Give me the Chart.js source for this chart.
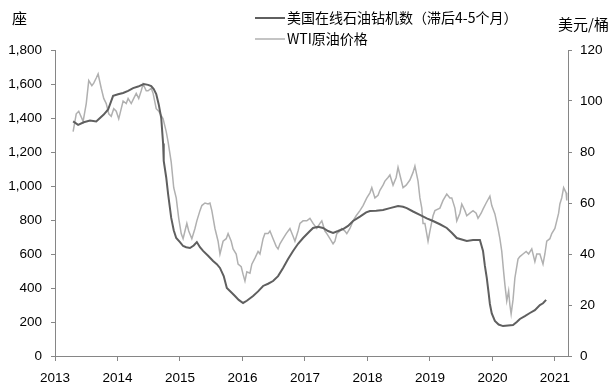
<!DOCTYPE html>
<html>
<head>
<meta charset="utf-8">
<script src="https://cdn.jsdelivr.net/npm/chart.js@4/dist/chart.umd.min.js"></script>
<style>
  body { margin: 0; background: #fff; }
</style>
</head>
<body>
<canvas id="myChart" width="611" height="391"></canvas>
<script>
const rigLabel = '美国在线石油钻机数（滞后4-5个月）'
const wtiLabel = 'WTI原油价格'
const leftUnit = '座'
const rightUnit = '美元/桶'

const yearTicks = [2013, 2014, 2015, 2016, 2017, 2018, 2019, 2020, 2021]

const rigYears = [
  2013.29, 2013.37, 2013.46, 2013.56, 2013.66, 2013.72, 2013.78, 2013.85, 2013.93, 2014.01,
  2014.09, 2014.17, 2014.25, 2014.33, 2014.42, 2014.49, 2014.54, 2014.58, 2014.62, 2014.66,
  2014.70, 2014.73, 2014.74, 2014.78, 2014.81, 2014.86, 2014.90, 2014.94, 2015.00, 2015.05,
  2015.10, 2015.16, 2015.22, 2015.27, 2015.32, 2015.37, 2015.45, 2015.53, 2015.59, 2015.64,
  2015.70, 2015.75, 2015.82, 2015.88, 2015.94, 2016.01, 2016.07, 2016.17, 2016.25, 2016.33,
  2016.41, 2016.49, 2016.57, 2016.65, 2016.73, 2016.81, 2016.89, 2016.97, 2017.08, 2017.13,
  2017.21, 2017.29, 2017.37, 2017.45, 2017.53, 2017.61, 2017.69, 2017.77, 2017.88, 2017.98,
  2018.04, 2018.14, 2018.25, 2018.36, 2018.49, 2018.57, 2018.63, 2018.73, 2018.84, 2018.95,
  2019.05, 2019.16, 2019.27, 2019.35, 2019.43, 2019.51, 2019.59, 2019.69, 2019.80, 2019.85,
  2019.88, 2019.91, 2019.94, 2019.96, 2019.99, 2020.04, 2020.10, 2020.17, 2020.25, 2020.33,
  2020.39, 2020.44, 2020.52, 2020.60, 2020.68, 2020.76, 2020.81, 2020.86
]
const rigCounts = [
  1380, 1360, 1375, 1385, 1380, 1400, 1420, 1450, 1530, 1540,
  1547, 1560, 1576, 1585, 1600, 1595, 1588, 1570, 1541, 1480,
  1400, 1250, 1147, 1050, 953, 812, 740, 694, 670, 647,
  640, 635, 650, 670, 640, 618, 590, 559, 540, 518,
  470, 400, 375, 353, 330, 312, 325, 353, 380, 412,
  425, 441, 470, 518, 570, 618, 660, 694, 735, 753,
  760, 753, 735, 724, 735, 747, 765, 794, 820, 845,
  853, 855, 859, 870, 882, 878, 870, 850, 830, 810,
  794, 775, 753, 725, 694, 685, 676, 682, 682, 618,
  530, 459, 370, 306, 250, 206, 185, 176, 180, 182,
  200, 218, 235, 253, 270, 300, 310, 330
]

const wtiYears = [
  2013.29, 2013.34, 2013.38, 2013.45, 2013.50, 2013.54, 2013.59, 2013.62, 2013.66, 2013.69,
  2013.74, 2013.78, 2013.82, 2013.86, 2013.90, 2013.94, 2013.98, 2014.02, 2014.06, 2014.09,
  2014.14, 2014.17, 2014.22, 2014.26, 2014.30, 2014.34, 2014.38, 2014.41, 2014.46, 2014.49,
  2014.54, 2014.57, 2014.62, 2014.66, 2014.73, 2014.78, 2014.81, 2014.86, 2014.90, 2014.94,
  2014.98, 2015.02, 2015.05, 2015.08, 2015.11, 2015.14, 2015.19, 2015.24, 2015.27, 2015.32,
  2015.35, 2015.40, 2015.45, 2015.48, 2015.51, 2015.56, 2015.61, 2015.64, 2015.69, 2015.74,
  2015.77, 2015.82, 2015.85, 2015.90, 2015.93, 2015.98, 2016.01, 2016.04, 2016.07, 2016.12,
  2016.15, 2016.20, 2016.25, 2016.28, 2016.33, 2016.36, 2016.41, 2016.44, 2016.49, 2016.54,
  2016.57, 2016.60, 2016.65, 2016.70, 2016.76, 2016.81, 2016.84, 2016.89, 2016.92, 2016.97,
  2017.03, 2017.08, 2017.13, 2017.19, 2017.24, 2017.27, 2017.32, 2017.35, 2017.40, 2017.45,
  2017.48, 2017.51, 2017.56, 2017.59, 2017.64, 2017.67, 2017.72, 2017.77, 2017.82, 2017.88,
  2017.93, 2017.99, 2018.04, 2018.07, 2018.12, 2018.17, 2018.20, 2018.25, 2018.28, 2018.33,
  2018.36, 2018.41, 2018.46, 2018.49, 2018.52, 2018.57, 2018.62, 2018.68, 2018.73, 2018.76,
  2018.81, 2018.84, 2018.87, 2018.89, 2018.92, 2018.97, 2019.00, 2019.05, 2019.08, 2019.16,
  2019.21, 2019.27, 2019.32, 2019.35, 2019.40, 2019.43, 2019.48, 2019.51, 2019.56, 2019.59,
  2019.64, 2019.69, 2019.74, 2019.77, 2019.82, 2019.85, 2019.90, 2019.96, 2019.99, 2020.04,
  2020.09, 2020.12, 2020.15, 2020.18, 2020.20, 2020.23, 2020.26, 2020.28, 2020.30, 2020.33,
  2020.36, 2020.41, 2020.44, 2020.49, 2020.54, 2020.58, 2020.63, 2020.68, 2020.71, 2020.76,
  2020.81, 2020.84, 2020.87, 2020.92, 2020.95, 2021.00, 2021.03, 2021.06, 2021.08, 2021.11,
  2021.14, 2021.18, 2021.19
]
const wtiPrices = [
  88, 95, 96, 92, 99, 108, 106, 107, 109, 110.6,
  105, 101, 99, 95, 94, 97, 96, 93, 97, 100,
  99, 101, 99, 101, 103, 101, 104, 106.6, 104, 104,
  105, 103, 97, 96, 93, 88, 84, 76, 66, 62,
  54, 48, 46, 49, 52, 49, 46, 50, 53, 57,
  59, 60, 59.6, 60, 57, 50, 45, 40, 45, 46,
  48, 45, 42, 40, 36, 35, 32, 29.4, 33, 32.5,
  36, 38.4, 41, 40, 46, 48, 48, 49, 46, 43,
  42, 44, 46, 48, 50, 47, 45, 49, 52, 53,
  53, 54, 52, 50, 52, 53, 49, 48, 46, 44,
  45, 48, 49, 50, 49, 48, 50, 53, 55, 57,
  59, 62, 64, 66, 62, 63, 65, 67, 68.6, 70,
  71, 67, 70, 74, 71, 66, 67, 69, 72, 74.5,
  68.6, 62, 58, 52, 52, 45, 49, 55, 57, 58,
  61, 63.5, 62, 62, 58, 53, 56, 59.6, 57, 55,
  56, 57, 56, 54, 56, 57.6, 60, 62.7, 59, 55.7,
  50, 46, 41, 33, 28, 21.6, 25.5, 20, 16.5, 22,
  30.6, 38, 39, 40, 41, 40, 42, 37, 40, 40,
  36, 40, 45, 46, 48, 50, 53, 56, 59.6, 62,
  66, 64, 61
]

const axisColor = '#868686'
const numFont = { family: 'Liberation Sans, Arial, sans-serif', size: 13.5 }
const cjkFont = '"Noto Sans CJK SC", sans-serif'

function pairUp(xs, ys) {
  return xs.map((x, i) => ({ x: x, y: ys[i] }))
}

const textPlugin = {
  id: 'textPlugin',
  afterDraw(chart) {
    const ctx = chart.ctx
    ctx.save()
    ctx.textBaseline = 'middle'
    ctx.fillStyle = '#000'
    ctx.font = '15px ' + cjkFont
    ctx.textAlign = 'left'
    ctx.fillText(leftUnit, 12, 18)
    ctx.textAlign = 'right'
    ctx.fillText(rightUnit, 609, 24)

    // legend
    const rows = [
      { ds: chart.data.datasets[0], y: 18 },
      { ds: chart.data.datasets[1], y: 39 }
    ]
    ctx.textAlign = 'left'
    ctx.font = '14px ' + cjkFont
    rows.forEach(r => {
      ctx.strokeStyle = r.ds.borderColor
      ctx.lineWidth = r.ds.borderWidth
      ctx.beginPath()
      ctx.moveTo(255, r.y)
      ctx.lineTo(285, r.y)
      ctx.stroke()
      ctx.fillStyle = '#000'
      ctx.fillText(r.ds.label, 287, r.y)
    })
    ctx.restore()
  }
}

let data = {
  datasets: [{
    label: rigLabel,
    data: pairUp(rigYears, rigCounts),
    borderColor: '#5f5f5f',
    borderWidth: 2,
    pointRadius: 0,
    yAxisID: 'y',
    order: 1
  }, {
    label: wtiLabel,
    data: pairUp(wtiYears, wtiPrices),
    borderColor: '#b0b0b0',
    borderWidth: 1.5,
    pointRadius: 0,
    yAxisID: 'y1',
    order: 2
  }]
}

let config = {
  type: 'line',
  data: data,
  options: {
    responsive: false,
    animation: false,
    layout: { padding: { top: 50, left: 0, right: 0, bottom: 0 } },
    plugins: {
      legend: { display: false },
      tooltip: { enabled: false }
    },
    scales: {
      x: {
        type: 'linear',
        min: 2013,
        max: 2021.21,
        grid: { drawOnChartArea: false, drawTicks: true, tickLength: 5, color: axisColor },
        border: { color: axisColor },
        afterBuildTicks: s => { s.ticks = yearTicks.map(v => ({ value: v })) },
        ticks: {
          font: numFont,
          color: '#000',
          padding: 9,
          maxRotation: 0,
          autoSkip: false,
          callback: v => String(v)
        },
        afterFit: s => { s.height = 35 }
      },
      y: {
        position: 'left',
        min: 0,
        max: 1800,
        grid: { drawOnChartArea: false, drawTicks: true, tickLength: 4, color: axisColor },
        border: { color: axisColor },
        ticks: {
          stepSize: 200,
          font: numFont,
          color: '#000',
          padding: 9,
          callback: v => v.toLocaleString('en-US')
        },
        afterFit: s => { s.width = 55 }
      },
      y1: {
        position: 'right',
        min: 0,
        max: 120,
        grid: { drawOnChartArea: false, drawTicks: true, tickLength: 4, color: axisColor },
        border: { color: axisColor },
        ticks: {
          stepSize: 20,
          font: numFont,
          color: '#000',
          padding: 8
        },
        afterFit: s => { s.width = 43 }
      }
    }
  },
  plugins: [textPlugin]
}

const myChart = new Chart(document.getElementById('myChart'), config)
</script>
</body>
</html>
